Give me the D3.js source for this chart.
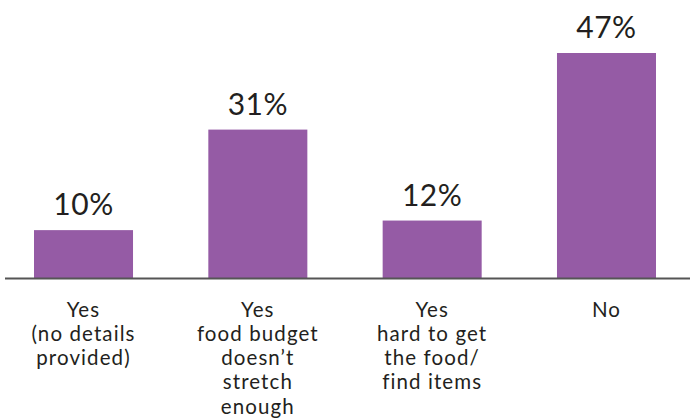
<!DOCTYPE html>
<html>
<head>
<meta charset="utf-8">
<script src="https://cdn.jsdelivr.net/npm/d3@7/dist/d3.min.js"></script>
<style>
  html, body { margin: 0; padding: 0; background: #fff; }
  svg { display: block; }
  text { font-family: Lato, "Open Sans", sans-serif; fill: #231f20; }
</style>
</head>
<body>
<svg id="chart" width="690" height="420"></svg>
<script>
// Categories (multi-line labels) and percentage values
const categories = [
  ["Yes", "(no details", "provided)"],
  ["Yes", "food budget", "doesn\u2019t", "stretch", "enough"],
  ["Yes", "hard to get", "the food/", "find items"],
  ["No"]
];
const values = [10, 31, 12, 47];
const valueLabels = ["10%", "31%", "12%", "47%"];

const svg = d3.select("#chart");
const baseline = 278;

const x = d3.scaleBand()
  .domain(d3.range(categories.length))
  .range([34, 656])
  .paddingInner(0.432)
  .paddingOuter(0);

const y = d3.scaleLinear()
  .domain([0, 47])
  .range([baseline, 53]);

// Bars
svg.selectAll("rect.bar")
  .data(values)
  .join("rect")
  .attr("class", "bar")
  .attr("x", (d, i) => x(i))
  .attr("width", x.bandwidth())
  .attr("y", d => y(d))
  .attr("height", d => baseline - y(d))
  .attr("fill", "#955ba5");

// Baseline
svg.append("line")
  .attr("x1", 5).attr("x2", 690)
  .attr("y1", baseline + 0.5).attr("y2", baseline + 0.5)
  .attr("stroke", "#555")
  .attr("stroke-width", 2);

// Value labels
svg.selectAll("text.value")
  .data(values)
  .join("text")
  .attr("class", "value")
  .attr("x", (d, i) => x(i) + x.bandwidth() / 2)
  .attr("y", d => y(d) - 15)
  .attr("text-anchor", "middle")
  .attr("font-size", 30)
  .attr("letter-spacing", 0.5)
  .text((d, i) => valueLabels[i]);

// Category labels
const cat = svg.selectAll("text.cat")
  .data(categories)
  .join("text")
  .attr("class", "cat")
  .attr("text-anchor", "middle")
  .attr("font-size", 20.5)
  .attr("letter-spacing", 1.1);

cat.selectAll("tspan")
  .data((d, i) => d.map(line => ({ line, i })))
  .join("tspan")
  .attr("x", d => x(d.i) + x.bandwidth() / 2)
  .attr("y", (d, j) => 316.5 + j * 24.3)
  .text(d => d.line);
</script>
</body>
</html>
